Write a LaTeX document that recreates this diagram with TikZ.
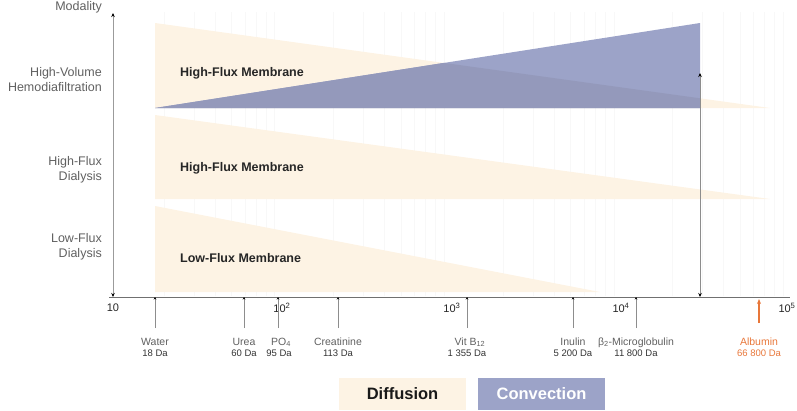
\documentclass[tikz,border=0pt]{standalone}
\usepackage{fontspec}
\setmainfont{Liberation Sans}
\usetikzlibrary{arrows.meta}
\definecolor{beige}{HTML}{FDF3E4}
\definecolor{conv}{HTML}{9CA3C8}
\definecolor{overlapc}{HTML}{9499BB}
\definecolor{lbl}{HTML}{606060}
\definecolor{albumin}{HTML}{E8773A}
\definecolor{gridc}{HTML}{F8F8F8}
\definecolor{axisc}{HTML}{707070}
\begin{document}
\begin{tikzpicture}[x=1pt,y=-1pt,
  rowlbl/.style={font=\fontsize{12.5}{15}\selectfont, text=lbl, align=right, anchor=east, inner sep=0},
  memb/.style={font=\bfseries\fontsize{12.5}{14}\selectfont, text=black!85, anchor=west, inner sep=0},
  decade/.style={font=\fontsize{11}{13}\selectfont, text=black!85, inner sep=0},
  molname/.style={font=\fontsize{10.5}{12}\selectfont, text=lbl, inner sep=0, anchor=base},
  molmass/.style={font=\fontsize{9.5}{11}\selectfont, text=black!80, inner sep=0, anchor=base},
  ticktip/.style={draw=axisc!80, line width=0.6pt, -{Stealth[length=2.5pt,width=2.5pt,black]}},
  axisline/.style={draw=axisc, line width=0.8pt},
  dbl/.style={draw=axisc!80, line width=0.8pt, {Stealth[length=4pt,width=3.5pt,black]}-{Stealth[length=4pt,width=3.5pt,black]}},
  legbox/.style={minimum width=127pt, minimum height=32pt, inner sep=0, font=\bfseries\fontsize{16.5}{18}\selectfont},
  gridline/.style={draw=gridc, line width=0.5pt}
]
\useasboundingbox (0,0) rectangle (797,410);

% faint log grid
\foreach \d in {0,1,2,3}{
  \foreach \m in {2,...,9}{
    \draw[gridline] ({113+169.5*(\d+log10(\m))},12) -- ({113+169.5*(\d+log10(\m))},296);
  }
}

% row 1: high-volume HDF
\fill[beige] (155,23) -- (155,108) -- (770,108) -- cycle;
\fill[conv] (155,108) -- (700,23) -- (700,108) -- cycle;
\fill[overlapc] (155,108) -- (443.9,62.9) -- (700,98.3) -- (700,108) -- cycle;
% row 2: high-flux dialysis
\fill[beige] (155,115) -- (155,199) -- (770,199) -- cycle;
% row 3: low-flux dialysis
\fill[beige] (155,206) -- (155,292) -- (600,292) -- cycle;

% membrane labels
\node[memb] (m1) at (180,73) {High-Flux Membrane};
\node[memb] (m2) at (180,168) {High-Flux Membrane};
\node[memb] (m3) at (180,258) {Low-Flux Membrane};

% row labels
\node[rowlbl] (modality) at (102,7) {Modality};
\node[rowlbl] (r1) at (102,79.5) {High-Volume\\Hemodiafiltration};
\node[rowlbl] (r2) at (102,170) {High-Flux\\Dialysis};
\node[rowlbl] (r3) at (102,247) {Low-Flux\\Dialysis};

% axes
\coordinate (origin) at (113,297);
\coordinate (ytop) at (113,13);
\coordinate (xleft) at (109,297);
\coordinate (xright) at (790,297);
\draw[axisline] (xleft) -- (xright);
\draw[dbl, draw=axisc!70] (origin) -- (ytop);
\coordinate (cutB) at (700,297);
\coordinate (cutT) at (700,73);
\draw[dbl] (cutB) -- (cutT);

% decade labels
\node[decade] (d1) at (113,308) {10};
\node[decade] (d2) at (282,308) {10\textsuperscript{2}};
\node[decade] (d3) at (452,308) {10\textsuperscript{3}};
\node[decade] (d4) at (621,308) {10\textsuperscript{4}};
\node[decade] (d5) at (787,308) {10\textsuperscript{5}};

% molecule ticks
\foreach \nm/\x in {water/155, urea/244, po/278, crea/338, vit/467, inulin/573, beta/636}{
  \coordinate (\nm T) at (\x,297);
  \coordinate (\nm B) at (\x,328);
  \draw[ticktip] (\nm B) -- (\nm T);
}
\node[molname] (nWater) at (155,345) {Water};
\node[molmass] (mWater) at (155,356) {18 Da};
\node[molname] (nUrea) at (244,345) {Urea};
\node[molmass] (mUrea) at (244,356) {60 Da};
\node[molname] (nPO) at (281,345) {PO\textsubscript{4}};
\node[molmass] (mPO) at (279,356) {95 Da};
\node[molname] (nCrea) at (338,345) {Creatinine};
\node[molmass] (mCrea) at (338,356) {113 Da};
\node[molname] (nVit) at (470,345) {Vit B\textsubscript{12}};
\node[molmass] (mVit) at (467,356) {1 355 Da};
\node[molname] (nInulin) at (573,345) {Inulin};
\node[molmass] (mInulin) at (573,356) {5 200 Da};
\node[molname] (nBeta) at (636,345) {β\textsubscript{2}-Microglobulin};
\node[molmass] (mBeta) at (636,356) {11 800 Da};

% albumin
\coordinate (albB) at (759,323);
\coordinate (albT) at (759,299);
\draw[draw=albumin, line width=1.3pt, -{Stealth[length=5pt,width=4pt]}] (albB) -- (albT);
\node[molname, text=albumin] (nAlb) at (759,345) {Albumin};
\node[molmass, text=albumin] (mAlb) at (759,356) {66 800 Da};

% legend
\node[legbox, fill=beige, text=black!90] (legDiff) at (402.5,394) {Diffusion};
\node[legbox, fill=conv, text=white] (legConv) at (541.5,394) {Convection};
\end{tikzpicture}
\end{document}
